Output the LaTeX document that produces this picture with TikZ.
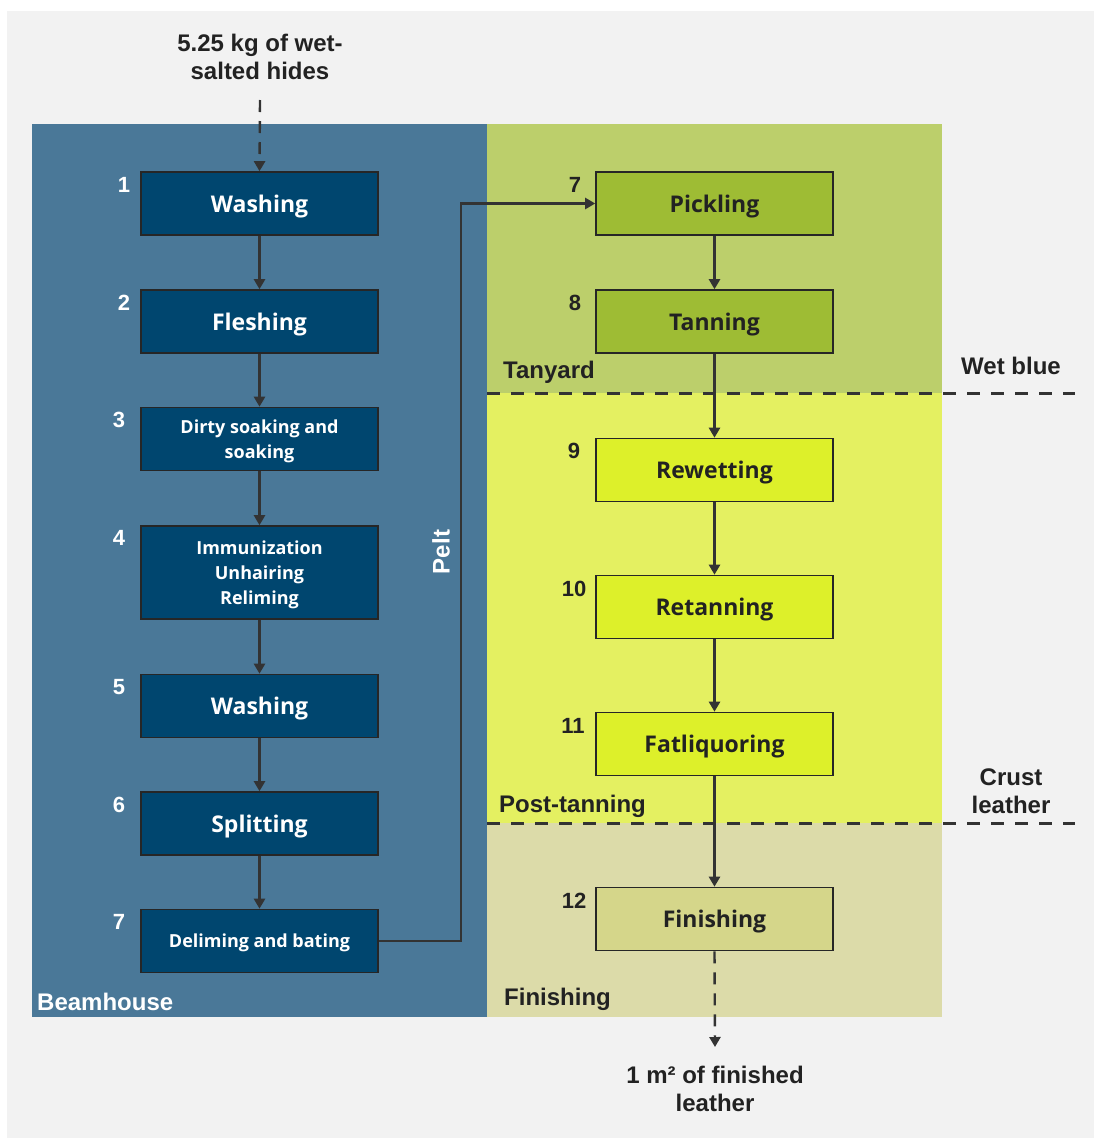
\documentclass[tikz,border=0pt]{standalone}
\usepackage{fontspec}
\setmainfont{Liberation Sans}
\newfontfamily\boxfont{Open Sans}
\usetikzlibrary{arrows.meta}

\definecolor{pagegray}{HTML}{F2F2F2}
\definecolor{beampanel}{HTML}{4A7898}
\definecolor{tanpanel}{HTML}{BCCF6B}
\definecolor{postpanel}{HTML}{E4F061}
\definecolor{finpanel}{HTML}{DCDBA9}
\definecolor{beambox}{HTML}{00466F}
\definecolor{tanbox}{HTML}{9EBC34}
\definecolor{postbox}{HTML}{DDF02A}
\definecolor{finbox}{HTML}{D5D68A}
\definecolor{edgecol}{HTML}{262626}
\definecolor{linecol}{HTML}{333333}
\definecolor{inkcol}{HTML}{222222}

\tikzset{
  stepbox/.style={draw=edgecol, line width=1.6pt, minimum width=237pt,
    minimum height=63pt, inner sep=0pt, align=center, text depth=0pt,
    font=\boxfont\bfseries\fontsize{23}{27}\selectfont},
  beamstep/.style={stepbox, fill=beambox, text=white},
  smalltext/.style={font=\boxfont\bfseries\fontsize{18}{25}\selectfont},
  tanstep/.style={stepbox, fill=tanbox, text=inkcol},
  poststep/.style={stepbox, fill=postbox, text=inkcol},
  finstep/.style={stepbox, fill=finbox, text=inkcol},
  flow/.style={draw=linecol, line width=2.4pt,
    -{Triangle[length=10pt,width=11pt]}},
  flowdash/.style={flow, dash pattern=on 12pt off 9pt},
  stage/.style={draw=linecol, line width=3pt, dash pattern=on 13pt off 11pt},
  numlbl/.style={font=\bfseries\fontsize{22}{24}\selectfont, inner sep=0pt},
  outlbl/.style={font=\bfseries\fontsize{24}{28}\selectfont, text=inkcol,
    align=center, inner sep=0pt},
  arealbl/.style={font=\bfseries\fontsize{24}{28}\selectfont, anchor=west,
    inner sep=0pt}
}

\begin{document}
\begin{tikzpicture}[x=1pt,y=-1pt]
  \useasboundingbox (0,0) rectangle (1094,1138);
  \fill[white] (0,0) rectangle (1094,1138);
  \fill[pagegray] (7,11) rectangle (1094,1138);

  % process areas
  \fill[beampanel] (32,124) rectangle (487,1017);
  \fill[tanpanel] (487,124) rectangle (942,393);
  \fill[postpanel] (487,393) rectangle (942,823);
  \fill[finpanel] (487,823) rectangle (942,1017);

  % stage boundaries
  \draw[stage] (487,393) -- (1075,393);
  \draw[stage] (487,823) -- (1075,823);

  % beamhouse steps
  \node[beamstep] (b1) at (259.5,203.5) {Washing};
  \node[beamstep] (b2) at (259.5,321.5) {Fleshing};
  \node[beamstep, smalltext] (b3) at (259.5,439) {Dirty soaking and\\soaking};
  \node[beamstep, smalltext, minimum height=93pt] (b4) at (259.5,572.5) {Immunization\\Unhairing\\Reliming};
  \node[beamstep] (b5) at (259.5,706) {Washing};
  \node[beamstep] (b6) at (259.5,823.5) {Splitting};
  \node[beamstep, smalltext] (b7) at (259.5,941) {Deliming and bating};

  % tanyard, post-tanning and finishing steps
  \node[tanstep] (p7) at (714.5,203.5) {Pickling};
  \node[tanstep] (p8) at (714.5,321.5) {Tanning};
  \node[poststep] (p9) at (714.5,470) {Rewetting};
  \node[poststep] (p10) at (714.5,607) {Retanning};
  \node[poststep] (p11) at (714.5,744) {Fatliquoring};
  \node[finstep] (p12) at (714.5,919) {Finishing};

  % step numbers
  \begin{scope}[every node/.style={numlbl, text=white}]
    \node (n1) at (124,185) {1};
    \node (n2) at (124,303) {2};
    \node (n3) at (119,420) {3};
    \node (n4) at (119,538) {4};
    \node (n5) at (119,687) {5};
    \node (n6) at (119,805) {6};
    \node (n7) at (119,922) {7};
  \end{scope}
  \begin{scope}[every node/.style={numlbl, text=inkcol}]
    \node (m7) at (575,185) {7};
    \node (m8) at (575,303) {8};
    \node (m9) at (574,451) {9};
    \node (m10) at (574,589) {10};
    \node (m11) at (573,726) {11};
    \node (m12) at (574,901) {12};
  \end{scope}

  % input and output
  \node[outlbl] (input) at (260,57) {5.25 kg of wet-\\salted hides};
  \coordinate (src) at (260,100);
  \node[outlbl] (output) at (715,1089) {1 m² of finished\\leather};
  \coordinate (sink) at (715,1047);

  % area and stage labels
  \node[arealbl, text=white] (beam) at (37,1002) {Beamhouse};
  \node[arealbl, text=inkcol] (tany) at (503,372) {Tanyard};
  \node[arealbl, text=inkcol] (post) at (499,806) {Post-tanning};
  \node[arealbl, text=inkcol] (finl) at (504,999) {Finishing};
  \node[outlbl] (wetblue) at (1011,366) {Wet blue};
  \node[outlbl] (crust) at (1011,791) {Crust\\leather};
  \node[font=\bfseries\fontsize{24}{28}\selectfont, text=white, rotate=90,
    inner sep=0pt] (pelt) at (441,552) {Pelt};

  % flow
  \draw[flowdash] (src) -- (b1.north);
  \draw[flow] (b1) -- (b2);
  \draw[flow] (b2) -- (b3);
  \draw[flow] (b3) -- (b4);
  \draw[flow] (b4) -- (b5);
  \draw[flow] (b5) -- (b6);
  \draw[flow] (b6) -- (b7);
  \draw[flow] (b7.east) -- ++(82,0) |- (p7.west);
  \draw[flow] (p7) -- (p8);
  \draw[flow] (p8) -- (p9);
  \draw[flow] (p9) -- (p10);
  \draw[flow] (p10) -- (p11);
  \draw[flow] (p11) -- (p12);
  \draw[flowdash] (p12.south) -- (sink);
\end{tikzpicture}
\end{document}
